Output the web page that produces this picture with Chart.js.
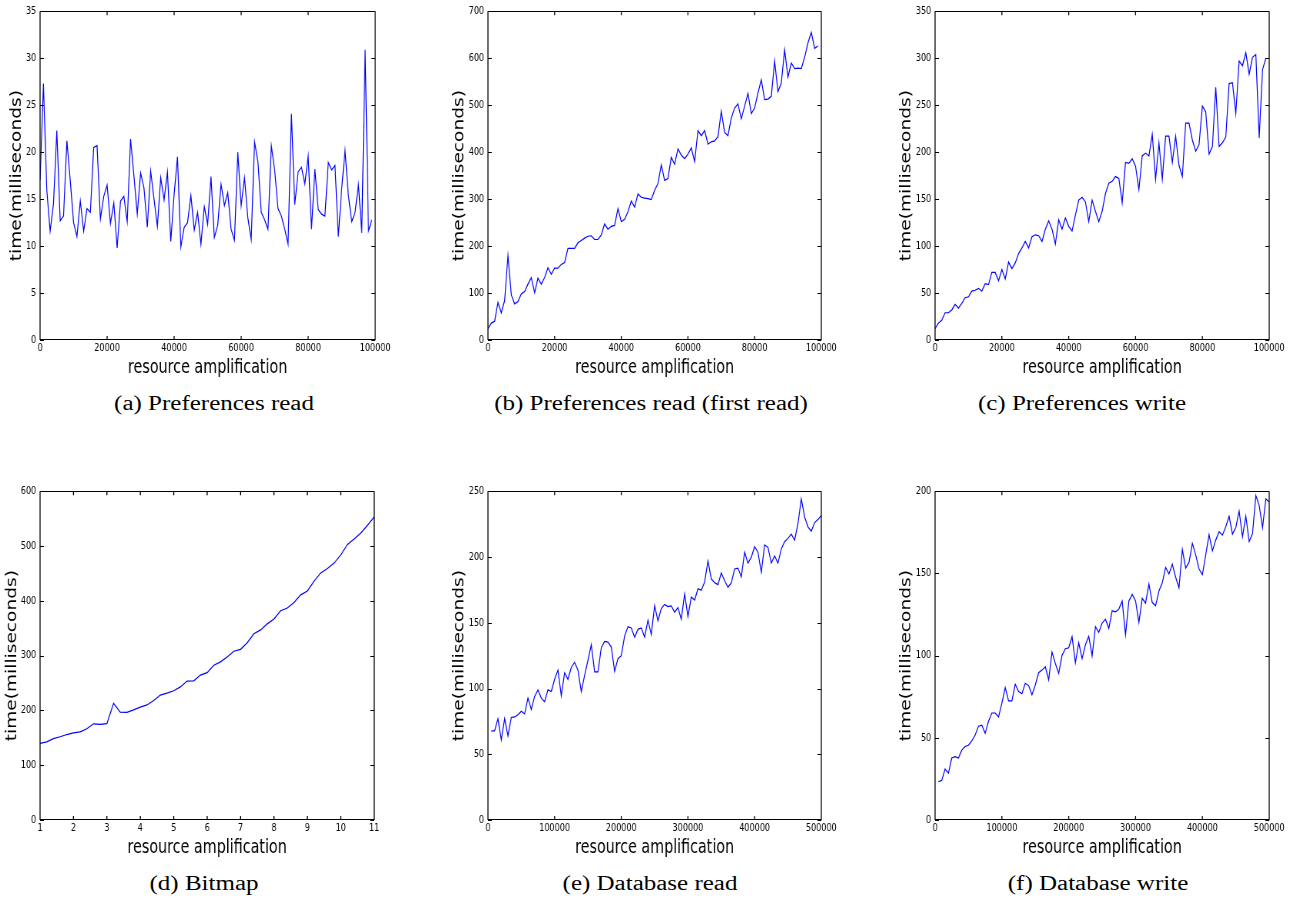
<!DOCTYPE html>
<html>
<head>
<meta charset="utf-8">
<script src="https://cdn.jsdelivr.net/npm/chart.js@4.4.1/dist/chart.umd.min.js"></script>
<style>
  html, body { margin: 0; padding: 0; background: #fff; }
  body { width: 1298px; height: 899px; position: relative; overflow: hidden; }
  canvas { position: absolute; }
  .cap {
    position: absolute;
    font-family: 'Liberation Serif', serif;
    font-size: 20px;
    color: #000;
    white-space: nowrap;
    transform: translate(-50%, -50%) scaleX(1.25);
  }
</style>
</head>
<body>
<canvas id="prefRead"></canvas>
<canvas id="prefFirstRead"></canvas>
<canvas id="prefWrite"></canvas>
<canvas id="bitmap"></canvas>
<canvas id="dbRead"></canvas>
<canvas id="dbWrite"></canvas>

<div class="cap" style="left:214px;top:403px">(a) Preferences read</div>
<div class="cap" style="left:651px;top:403px">(b) Preferences read (first read)</div>
<div class="cap" style="left:1082px;top:403px">(c) Preferences write</div>
<div class="cap" style="left:204px;top:883px">(d) Bitmap</div>
<div class="cap" style="left:650px;top:883px">(e) Database read</div>
<div class="cap" style="left:1098px;top:883px">(f) Database write</div>

<script>
// x positions (resource amplification)
const prefX = [
  0,1000,2000,3000,4000,5000,6000,7000,8000,9000,
  10000,11000,12000,13000,14000,15000,16000,17000,18000,19000,
  20000,21000,22000,23000,24000,25000,26000,27000,28000,29000,
  30000,31000,32000,33000,34000,35000,36000,37000,38000,39000,
  40000,41000,42000,43000,44000,45000,46000,47000,48000,49000,
  50000,51000,52000,53000,54000,55000,56000,57000,58000,59000,
  60000,61000,62000,63000,64000,65000,66000,67000,68000,69000,
  70000,71000,72000,73000,74000,75000,76000,77000,78000,79000,
  80000,81000,82000,83000,84000,85000,86000,87000,88000,89000,
  90000,91000,92000,93000,94000,95000,96000,97000,98000,99000
];
const dbX = [
  5000,10000,15000,20000,25000,30000,35000,40000,45000,50000,
  55000,60000,65000,70000,75000,80000,85000,90000,95000,100000,
  105000,110000,115000,120000,125000,130000,135000,140000,145000,150000,
  155000,160000,165000,170000,175000,180000,185000,190000,195000,200000,
  205000,210000,215000,220000,225000,230000,235000,240000,245000,250000,
  255000,260000,265000,270000,275000,280000,285000,290000,295000,300000,
  305000,310000,315000,320000,325000,330000,335000,340000,345000,350000,
  355000,360000,365000,370000,375000,380000,385000,390000,395000,400000,
  405000,410000,415000,420000,425000,430000,435000,440000,445000,450000,
  455000,460000,465000,470000,475000,480000,485000,490000,495000,500000
];
const bitmapX = [
  1,1.2,1.4,1.6,1.8,2,2.2,2.4,2.6,2.8,
  3,3.2,3.4,3.6,3.8,4,4.2,4.4,4.6,4.8,
  5,5.2,5.4,5.6,5.8,6,6.2,6.4,6.6,6.8,
  7,7.2,7.4,7.6,7.8,8,8.2,8.4,8.6,8.8,
  9,9.2,9.4,9.6,9.8,10,10.2,10.4,10.6,10.8,
  11
];

// time (milliseconds)
const prefReadMs = [
  17,27.3,16,11.6,14.5,22.3,12.7,13.2,21.2,17,
  12.5,11.0,14.8,11.6,14.0,13.6,20.5,20.7,12.9,15.3,
  16.5,12.4,14.6,9.8,14.8,15.3,12.6,21.4,17.5,13.4,
  17.8,16.2,12.0,18.0,15.0,12.1,17.3,14.9,17.9,10.5,
  15.5,19.5,9.9,12.0,12.5,15.4,11.7,13.6,10.2,14.2,
  12.3,17.4,10.9,12.2,16.6,14.3,15.7,11.8,10.6,20.0,
  14.3,17.3,13.0,10.7,21.1,19.0,13.6,12.8,11.8,20.7,
  18.1,14.0,13.2,11.8,10.2,24.1,14.4,17.9,18.4,16.6,
  19.6,11.8,18.2,13.9,13.4,13.2,18.9,18.1,18.6,11.0,
  16.1,20.2,15.4,12.6,13.6,16.6,11.4,30.9,11.6,12.8
];
const prefFirstReadMs = [
  24,36,40,80,58,84,180,96,77,82,
  98,103,119,133,101,132,119,133,154,140,
  153,153,161,165,195,195,195,207,212,217,
  221,222,214,214,224,247,236,242,244,280,
  252,257,273,296,283,311,304,302,301,299,
  319,333,373,340,344,389,374,407,394,386,
  396,409,380,446,435,446,417,422,424,433,
  487,442,435,473,494,503,471,498,525,482,
  494,526,554,512,513,519,594,529,547,618,
  560,590,578,579,578,602,633,655,621,626
];
const prefWriteMs = [
  12,18,21,29,29,32,38,34,39,45,
  46,52,53,55,52,60,59,72,72,63,
  75,65,83,76,82,92,98,105,98,110,
  112,111,105,118,127,118,102,128,118,130,
  121,116,133,149,152,147,126,149,137,126,
  137,156,167,169,174,172,146,189,188,193,
  185,160,196,199,196,219,171,210,171,217,
  217,189,217,186,174,231,231,213,201,208,
  249,243,198,206,269,206,210,216,273,274,
  241,297,292,306,283,301,304,215,288,300
];
const bitmapMs = [
  140,142.5,148.5,152,156,159,161,166.5,175.6,174.4,
  176,213,197,196.6,201,206,210,218,228,231.5,
  236,243,253.5,254,264.5,269,282.6,288.6,297.6,308,
  311.5,323.5,340,347,358,367,382,387,397,411,
  418,436,451,459,469,484,503,513,524,538,
  553
];
const dbReadMs = [
  67.6,68,77,61,77,64,78,78.4,80,82.7,
  80.7,92.7,84,94,99,92.7,90,99,97.7,107,
  114,94.4,112,107,116,120,114,97.7,110,121.5,
  133.5,112.7,112.7,131,135.8,135.3,131.5,113,122.7,125,
  140,147,146,139,145,146,139,152,141,163,
  151.5,160.8,164,162.3,162.8,158,161.6,152.8,172,154.8,
  169.6,167.3,175.9,174.8,180.9,197,183.4,180.4,179,187.9,
  182,177,180.4,190.9,191.6,184.9,203.7,195.4,199.9,207.9,
  203.7,188.4,209.2,207.4,195.4,200.9,195.4,206.2,211.7,214.2,
  217.4,212.9,225.5,244.2,230.5,223,219.7,226.2,228.5,231.7
];
const dbWriteMs = [
  23.4,24,31,28.5,37.7,38.5,37.7,42.5,44.7,45.5,
  48.1,51.7,57.1,57.7,52.7,60.1,65.1,65.1,62.7,71.1,
  80.6,72.5,72.5,82.6,78.2,76.8,83.2,81.8,76.2,82.2,
  89.6,91.2,93.2,85.2,102.2,95.2,89.2,100.2,104.2,104.8,
  111.6,95.6,107.8,98.2,106.6,111.8,99.8,117.6,114.2,119.8,
  122.2,116.6,127.3,126.7,128.3,133.3,112.6,133.3,137.3,133.3,
  120.2,134.9,131.9,143.7,132.3,130.3,139.3,144.3,153.7,149.7,
  155.7,147.7,141.3,164.7,153.3,156.7,168.3,161.3,152.7,149.3,
  161.3,173.7,163.7,170.3,175.4,173.3,178.4,184.8,173.9,178,
  188,172.3,185,169.3,174.3,197.4,191.4,177.8,195.4,193.4
];

// the source figure is squeezed horizontally; draw wide, show narrow
const SQ = 1.3;
const TITLE_SIZE = 18.6;
const TICK_SIZE = 10.5;

// box frame with inward ticks on all four sides
const frame = {
  id: 'frame',
  afterDatasetsDraw(chart) {
    const {ctx, chartArea: a, scales} = chart;
    const top = Math.round(a.top) + 0.5, bottom = Math.round(a.bottom) - 0.5;
    ctx.save();
    ctx.strokeStyle = '#000';
    ctx.lineWidth = 1;
    ctx.beginPath();
    ctx.moveTo(a.left, top); ctx.lineTo(a.right, top);
    ctx.moveTo(a.left, bottom); ctx.lineTo(a.right, bottom);
    scales.y.ticks.forEach(t => {
      const y = Math.round(scales.y.getPixelForValue(t.value)) + 0.5;
      ctx.moveTo(a.left, y); ctx.lineTo(a.left + 5, y);
      ctx.moveTo(a.right, y); ctx.lineTo(a.right - 5, y);
    });
    ctx.stroke();
    ctx.lineWidth = SQ;
    ctx.beginPath();
    ctx.moveTo(a.left, a.top); ctx.lineTo(a.left, a.bottom);
    ctx.moveTo(a.right, a.top); ctx.lineTo(a.right, a.bottom);
    scales.x.ticks.forEach(t => {
      const x = scales.x.getPixelForValue(t.value);
      ctx.moveTo(x, a.bottom); ctx.lineTo(x, a.bottom - 4);
      ctx.moveTo(x, a.top); ctx.lineTo(x, a.top + 4);
    });
    ctx.stroke();
    ctx.restore();
  }
};

function panel(id, box, xs, ys, xr, yr, yTitleGap) {
  const yw = 52, padR = 40, padT = 7, xh = 40;
  const w = Math.round(yw + (box.r - box.l) * SQ + padR);
  const h = padT + (box.b - box.t) + xh;
  const cv = document.getElementById(id);
  cv.width = w;
  cv.height = h;
  cv.style.left = (box.l - yw / SQ) + 'px';
  cv.style.top = (box.t - padT) + 'px';
  cv.style.width = (w / SQ) + 'px';
  cv.style.height = h + 'px';

  const tickFont = { family: 'DejaVu Sans', size: TICK_SIZE };
  const titleFont = { family: 'DejaVu Sans', size: TITLE_SIZE };
  const half = TITLE_SIZE * 0.6;
  const xTitleBelow = 28; // centre of x title below the plot bottom

  new Chart(cv, {
    type: 'line',
    data: {
      datasets: [{
        data: xs.map((x, i) => ({ x: x, y: ys[i] })),
        borderColor: '#0000ff',
        borderWidth: 1.2,
        pointRadius: 0,
        tension: 0,
        fill: false
      }]
    },
    options: {
      responsive: false,
      animation: false,
      devicePixelRatio: 1,
      layout: { padding: { left: 0, top: padT, right: padR, bottom: 0 } },
      plugins: { legend: { display: false }, tooltip: { enabled: false } },
      scales: {
        x: {
          type: 'linear',
          min: xr[0], max: xr[1],
          afterFit: s => { s.height = xh; },
          ticks: {
            stepSize: xr[2],
            autoSkip: false, maxRotation: 0, minRotation: 0,
            color: '#000', font: tickFont, padding: 2,
            callback: v => String(v)
          },
          grid: { display: false, drawTicks: false },
          border: { display: false },
          title: {
            display: true, text: 'resource amplification', color: '#000',
            font: titleFont, padding: { top: 0, bottom: Math.max(0, xh - xTitleBelow - half) }
          }
        },
        y: {
          min: yr[0], max: yr[1],
          afterFit: s => { s.width = yw; },
          ticks: {
            stepSize: yr[2],
            color: '#000', font: tickFont, padding: 5,
            callback: v => String(v)
          },
          grid: { display: false, drawTicks: false },
          border: { display: false },
          title: {
            display: true, text: 'time(milliseconds)', color: '#000',
            font: titleFont, padding: { top: Math.max(0, yw - yTitleGap * SQ - half), bottom: 0 }
          }
        }
      }
    },
    plugins: [frame]
  });
}

panel('prefRead',      { l: 40.3,  t: 7,   r: 375,    b: 340 }, prefX,   prefReadMs,      [0, 100000, 20000], [0, 35, 5],    23);
panel('prefFirstRead', { l: 487.7, t: 7,   r: 821.7,  b: 340 }, prefX,   prefFirstReadMs, [0, 100000, 20000], [0, 700, 100], 28.5);
panel('prefWrite',     { l: 935,   t: 7,   r: 1268.5, b: 340 }, prefX,   prefWriteMs,     [0, 100000, 20000], [0, 350, 50],  28.5);
panel('bitmap',        { l: 40.3,  t: 487, r: 374,    b: 820 }, bitmapX, bitmapMs,        [1, 11, 1],         [0, 600, 100], 27.6);
panel('dbRead',        { l: 487.7, t: 487, r: 821.7,  b: 820 }, dbX,     dbReadMs,        [0, 500000, 100000],[0, 250, 50],  28.5);
panel('dbWrite',       { l: 935,   t: 487, r: 1268.5, b: 820 }, dbX,     dbWriteMs,       [0, 500000, 100000],[0, 200, 50],  28.5);
</script>
</body>
</html>
